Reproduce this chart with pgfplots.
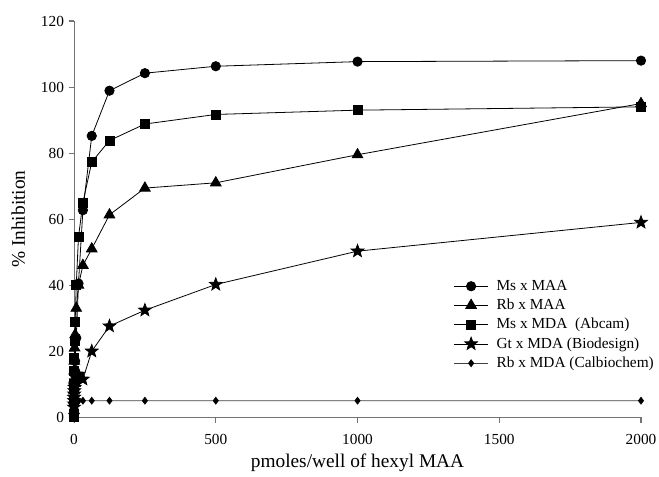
\documentclass[border=0pt]{standalone}
\usepackage{fontspec}
\setmainfont{Liberation Serif}
\usepackage{pgfplots}
\pgfplotsset{compat=1.18}
\pgfdeclareplotmark{fstar}{%
  \pgfpathmoveto{\pgfpointpolar{90}{\pgfplotmarksize}}%
  \pgfpathlineto{\pgfpointpolar{126}{0.42\pgfplotmarksize}}%
  \pgfpathlineto{\pgfpointpolar{162}{\pgfplotmarksize}}%
  \pgfpathlineto{\pgfpointpolar{198}{0.42\pgfplotmarksize}}%
  \pgfpathlineto{\pgfpointpolar{234}{\pgfplotmarksize}}%
  \pgfpathlineto{\pgfpointpolar{270}{0.42\pgfplotmarksize}}%
  \pgfpathlineto{\pgfpointpolar{306}{\pgfplotmarksize}}%
  \pgfpathlineto{\pgfpointpolar{342}{0.42\pgfplotmarksize}}%
  \pgfpathlineto{\pgfpointpolar{18}{\pgfplotmarksize}}%
  \pgfpathlineto{\pgfpointpolar{54}{0.42\pgfplotmarksize}}%
  \pgfpathclose
  \pgfusepathqfillstroke
}
\pgfplotstableread{
x      ms    rb    abc   gt    cal
2000   108.0 95.0  94.0  59.0  5.0
1000   107.7 79.5  93.0  50.3  5.0
500    106.3 71.0  91.7  40.2  5.0
250    104.2 69.4  88.8  32.4  5.0
125    98.9  61.3  83.8  27.6  5.0
62.5   85.2  51.0  77.3  20.0  5.0
31.25  62.7  46.0  65.0  11.5  5.0
15.625 40.5  40.0  54.5  13.0  5.0
7.8125 24.0  33.0  40.0  11.0  5.0
3.906  17.0  25.0  29.0  10.0  5.0
1.953  13.0  21.0  23.0  9.0   4.0
0.977  10.0  17.0  18.0  8.0   3.0
0.488  8.0   14.0  14.0  7.0   2.0
0.244  6.0   11.0  10.0  6.0   1.0
0.122  4.0   8.0   5.0   5.0   1.0
0.061  2.0   5.0   1.0   4.0   0.0
0      0.0   2.0   0.0   3.0   0.0
}\data
\begin{document}
\begin{tikzpicture}
\begin{axis}[name=ax, scale only axis, width=425pt, height=297pt,
  xmin=0, xmax=2000, ymin=0, ymax=120,
  axis x line*=bottom, axis y line*=left,
  axis line style={black!55, line width=0.8pt},
  every tick/.style={black!55, line width=0.8pt},
  tick align=outside, major tick length=4pt,
  xtick={0,500,...,2000}, ytick={0,20,...,120},
  /pgf/number format/assume math mode=true,
  /pgf/number format/1000 sep={},
  ticklabel style={font=\fontsize{11.5}{13}\selectfont},
  xticklabel style={yshift=-5.5pt},
  xlabel={pmoles/well of hexyl MAA}, ylabel={\% Inhibition},
  label style={font=\fontsize{14.5}{16}\selectfont},
  ylabel style={yshift=5pt},
  legend style={draw=none, fill=none, at={(0.662,0.36)}, anchor=north west,
    font=\fontsize{11.5}{13}\selectfont, row sep=1pt},
  legend cell align=left,
  legend image code/.code={\draw[mark repeat=2,mark phase=2,#1] plot coordinates {(0cm,0cm) (0.45cm,0cm) (0.9cm,0cm)};},
  clip=false]
\addplot[black, line width=0.6pt, mark=*, mark size=3.5pt] table[x=x,y=ms] {\data};
\addlegendentry{\hspace{4pt}Ms x MAA}
\addplot[black, line width=0.6pt, mark=triangle*, mark size=4.6pt] table[x=x,y=rb] {\data};
\addlegendentry{\hspace{4pt}Rb x MAA}
\addplot[black, line width=0.6pt, mark=square*, mark size=3.4pt] table[x=x,y=abc] {\data};
\addlegendentry{\hspace{4pt}Ms x MDA\ \ (Abcam)}
\addplot[black, line width=0.6pt, mark=fstar, mark size=5pt] table[x=x,y=gt] {\data};
\addlegendentry{\hspace{4pt}Gt x MDA (Biodesign)}
\addplot[black!75, line width=0.5pt, mark=diamond*, mark size=2.6pt, mark options={black}] table[x=x,y=cal] {\data};
\addlegendentry{\hspace{4pt}Rb x MDA (Calbiochem)}
\end{axis}
\pgfresetboundingbox
\path ([shift={(-55.5pt,-44.25pt)}]ax.south west) rectangle ([shift={(13.5pt,15.75pt)}]ax.north east);
\end{tikzpicture}
\end{document}
